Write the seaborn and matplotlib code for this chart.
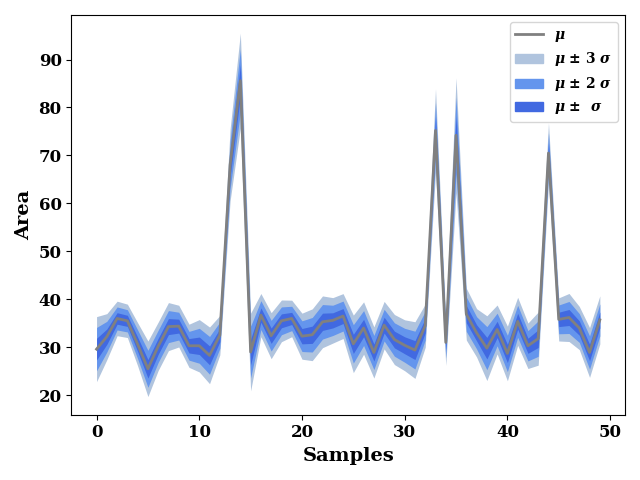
import numpy as np
import pandas as pd
import matplotlib
matplotlib.use("Agg")
import matplotlib.pyplot as plt
import seaborn as sns
from matplotlib.patches import Patch
from matplotlib.lines import Line2D

# mean area per sample
mu = [29.6, 32.2, 36.0, 35.5, 30.6, 25.5, 30.2, 34.3, 34.4, 30.3,
      30.3, 28.3, 32.5, 68.0, 85.6, 29.0, 36.7, 32.4, 35.5, 36.0,
      32.3, 32.6, 35.3, 35.6, 36.5, 30.7, 34.0, 28.9, 34.6, 31.6,
      30.4, 29.4, 34.5, 75.2, 31.0, 74.2, 36.9, 33.0, 29.8, 33.7,
      28.7, 35.4, 30.3, 31.8, 70.5, 35.8, 36.2, 34.0, 28.9, 35.7]

# standard deviation per sample
sigma = [2.26, 1.6, 1.2, 1.16, 1.5, 1.93, 1.68, 1.67, 1.45, 1.5,
         1.82, 1.97, 1.37, 2.5, 3.3, 2.7, 1.5, 1.6, 1.45, 1.27,
         1.6, 1.8, 1.8, 1.58, 1.56, 2.0, 1.82, 1.78, 1.65, 1.74,
         1.77, 1.97, 1.5, 2.9, 1.6, 4.0, 1.8, 1.68, 2.25, 1.7,
         1.9, 1.67, 1.58, 1.85, 2.1, 1.5, 1.67, 1.5, 1.73, 1.67]

band_k = [3, 2, 1]
band_colors = ["lightsteelblue", "cornflowerblue", "royalblue"]
band_labels = [r"$\boldsymbol{\mu}$ $\boldsymbol{\pm}$ $\boldsymbol{3\ \sigma}$",
               r"$\boldsymbol{\mu}$ $\boldsymbol{\pm}$ $\boldsymbol{2\ \sigma}$",
               r"$\boldsymbol{\mu}$ $\boldsymbol{\pm}$ $\boldsymbol{\ \sigma}$"]


def main():
    plt.rcParams["font.family"] = "DejaVu Serif"
    plt.rcParams["font.weight"] = "bold"
    plt.rcParams["mathtext.fontset"] = "dejavuserif"

    df = pd.DataFrame({"Samples": np.arange(len(mu)), "mu": mu, "sigma": sigma})

    fig, ax = plt.subplots(figsize=(6.4, 4.8), dpi=100)

    # bands from widest to narrowest
    for k, c in zip(band_k, band_colors):
        ax.fill_between(df["Samples"], df["mu"] - k * df["sigma"],
                        df["mu"] + k * df["sigma"], color=c, linewidth=0)

    sns.lineplot(data=df, x="Samples", y="mu", color="gray", linewidth=2, ax=ax)

    ax.set_xlabel("Samples", fontsize=14, fontweight="bold")
    ax.set_ylabel("Area", fontsize=14, fontweight="bold")
    ax.tick_params(labelsize=12)
    for lab in ax.get_xticklabels() + ax.get_yticklabels():
        lab.set_fontweight("bold")

    handles = [Line2D([], [], color="gray", linewidth=2)]
    handles += [Patch(color=c) for c in band_colors]
    labels = [r"$\boldsymbol{\mu}$"] + band_labels
    ax.legend(handles, labels, loc="upper right", prop={"weight": "bold", "size": 10})

    plt.tight_layout()
    plt.savefig("out.png")


if __name__ == "__main__":
    main()
